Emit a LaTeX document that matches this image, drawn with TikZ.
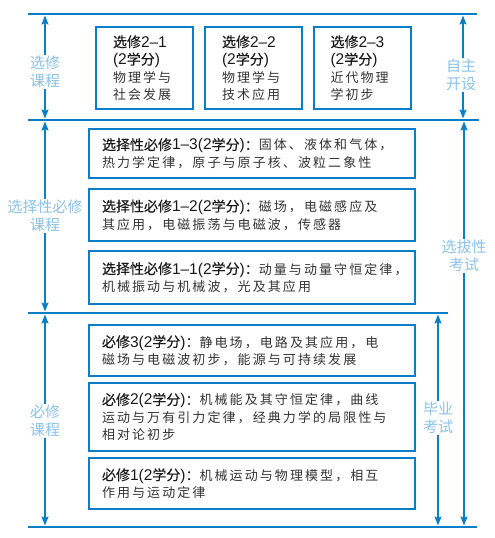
\documentclass[tikz,border=0pt]{standalone}
\usepackage{fontspec}
\usetikzlibrary{arrows.meta}
\newfontfamily\cjk{Noto Sans CJK SC}
\newfontfamily\cjkhead[FakeBold=0.35]{Noto Sans CJK SC}
\newfontfamily\cjkbody[LetterSpace=16]{Noto Sans CJK SC}
\newfontfamily\latf{Liberation Sans}
\definecolor{lineblue}{HTML}{0A7FC8}
\definecolor{labelblue}{HTML}{8CC2E8}
\definecolor{bodygray}{HTML}{333333}
\definecolor{headblack}{HTML}{1A1A1A}
\newcommand\hc[1]{{\fontsize{14}{17.5}\cjkhead\color{headblack}#1}}
\newcommand\hl[1]{{\fontsize{15.5}{17.5}\latf\color{headblack}#1}}
\newcommand\hdr[2]{\mbox{\hc{#1}\hl{#2(2}\hc{学分}\hl{)}\hc{：}}}
\begin{document}
\begin{tikzpicture}[x=1pt,y=-1pt,
  hline/.style={draw=lineblue,line width=2.5pt},
  box/.style={draw=lineblue,line width=2pt,inner sep=0pt,align=left,
    font=\fontsize{13}{17.5}\cjkbody\color{bodygray}},
  wbox/.style={box,minimum width=326pt,text width=300pt},
  tbox/.style={box,minimum width=97pt,minimum height=82pt,text width=63pt},
  arr/.style={draw=lineblue,line width=1.4pt,{Stealth[length=9pt,width=7pt,inset=1.5pt]}-{Stealth[length=9pt,width=7pt,inset=1.5pt]}},
  lab/.style={fill=white,inner sep=1.5pt,align=center,text=labelblue,font=\fontsize{15}{18}\cjk}]
\useasboundingbox (0,0) rectangle (495,538);
% horizontal rules
\coordinate (h1a) at (28,14);  \coordinate (h1b) at (477,14);
\coordinate (h2a) at (28,120); \coordinate (h2b) at (479,120);
\coordinate (h3a) at (28,313); \coordinate (h3b) at (448,313);
\coordinate (h4a) at (28,527); \coordinate (h4b) at (477,527);
\draw[hline] (h1a) -- (h1b);
\draw[hline] (h2a) -- (h2b);
\draw[hline] (h3a) -- (h3b);
\draw[hline] (h4a) -- (h4b);
% arrow end points
\coordinate (a1t) at (45,15.5);  \coordinate (a1b) at (45,118.5);
\coordinate (a2t) at (45,121.5); \coordinate (a2b) at (45,311.5);
\coordinate (a3t) at (45,314.5); \coordinate (a3b) at (45,525.5);
\coordinate (a4t) at (463,15.5); \coordinate (a4b) at (463,118.5);
\coordinate (a5t) at (464,121.5); \coordinate (a5b) at (464,525.5);
\coordinate (a6t) at (438,314.5); \coordinate (a6b) at (438,525.5);
\draw[arr] (a1t) -- (a1b);
\draw[arr] (a2t) -- (a2b);
\draw[arr] (a3t) -- (a3b);
\draw[arr] (a4t) -- (a4b);
\draw[arr] (a5t) -- (a5b);
\draw[arr] (a6t) -- (a6b);
% side labels
\node[lab] (lxx) at (45,72) {选修\\课程};
\node[lab] (lxb) at (45,216) {选择性必修\\课程};
\node[lab] (lbx) at (45,421) {必修\\课程};
\node[lab] (lzz) at (461,75) {自主\\开设};
\node[lab] (lxk) at (464,256) {选拔性\\考试};
\node[lab] (lbk) at (438,418) {毕业\\考试};
% top boxes
\node[tbox] (b21) at (144.5,68) {\hc{选修}\hl{2–1}\\\hl{(2}\hc{学分}\hl{)}\\物理学与\\社会发展};
\node[tbox] (b22) at (253.5,68) {\hc{选修}\hl{2–2}\\\hl{(2}\hc{学分}\hl{)}\\物理学与\\技术应用};
\node[tbox] (b23) at (362,68) {\hc{选修}\hl{2–3}\\\hl{(2}\hc{学分}\hl{)}\\近代物理\\学初步};
% middle boxes
\node[wbox,minimum height=49pt] (m13) at (252,153.5) {\hdr{选择性必修}{1–3}固体、液体和气体，\\热力学定律，原子与原子核、波粒二象性};
\node[wbox,minimum height=52pt] (m12) at (252,215) {\hdr{选择性必修}{1–2}磁场，电磁感应及\\其应用，电磁振荡与电磁波，传感器};
\node[wbox,minimum height=53pt] (m11) at (252,277.5) {\hdr{选择性必修}{1–1}动量与动量守恒定律，\\机械振动与机械波，光及其应用};
% bottom boxes
\node[wbox,minimum height=51pt] (r3) at (252,350.5) {\hdr{必修}{3}静电场，电路及其应用，电\\磁场与电磁波初步，能源与可持续发展};
\node[wbox,minimum height=68pt] (r2) at (252,417) {\hdr{必修}{2}机械能及其守恒定律，曲线\\运动与万有引力定律，经典力学的局限性与\\相对论初步};
\node[wbox,minimum height=51pt] (r1) at (252,483.5) {\hdr{必修}{1}机械运动与物理模型，相互\\作用与运动定律};
\end{tikzpicture}
\end{document}
